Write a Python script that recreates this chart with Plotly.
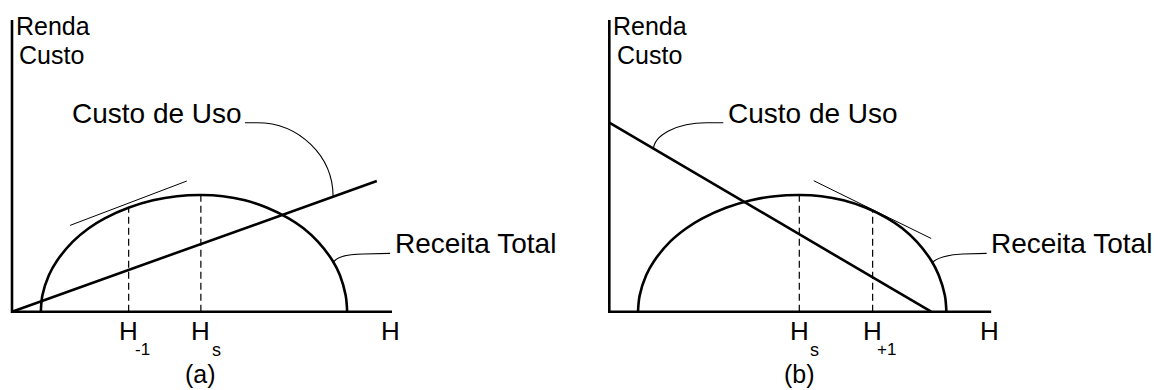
import plotly.graph_objects as go

# ---- Panel (a): use cost rising with harvest ----
RT_A_H = [0.76, 0.80, 0.97, 1.18, 1.60, 2.02, 2.44, 3.08, 3.71, 4.34, 4.97,
          5.55, 6.13, 6.70, 7.28, 7.67, 8.05, 8.44, 8.63, 8.78, 8.82]
RT_A_V = [0.00, 0.56, 1.25, 1.74, 2.40, 2.86, 3.20, 3.57, 3.82, 3.96, 4.00,
          3.96, 3.82, 3.57, 3.20, 2.86, 2.40, 1.74, 1.25, 0.56, 0.00]
CU_A_H = [0.00, 9.60]
CU_A_V = [0.00, 4.48]
TAN_A_H = [1.53, 4.60]
TAN_A_V = [2.96, 4.48]
HS_A = 4.97
HM1_A = 3.07
RT_AT_HM1_A = 3.57

# ---- Panel (b): use cost falling with harvest ----
RT_B_H = [0.755, 0.80, 0.97, 1.18, 1.60, 2.03, 2.45, 3.09, 3.73, 4.36, 5.00,
          5.58, 6.16, 6.74, 7.32, 7.71, 8.09, 8.48, 8.67, 8.83, 8.87]
RT_B_V = [0.00, 0.56, 1.25, 1.74, 2.40, 2.86, 3.20, 3.57, 3.82, 3.96, 4.00,
          3.96, 3.82, 3.57, 3.20, 2.86, 2.40, 1.74, 1.25, 0.56, 0.00]
CU_B_H = [0.00, 8.47]
CU_B_V = [6.48, 0.00]
TAN_B_H = [5.38, 8.47]
TAN_B_V = [4.49, 2.51]
HS_B = 5.00
HP1_B = 6.93
RT_AT_HP1_B = 3.46

PEAK = 4.00
AXIS_LEN_H = 10.0
AXIS_LEN_V = 10.0

# Leader curves: start, end of straight run, two Bezier handles, tip
LEAD_CU_A = [(6.13, 6.48), (6.45, 6.48), (7.55, 6.48), (8.45, 5.34), (8.45, 3.94)]
LEAD_RT_A = [(9.95, 2.00), (9.24, 1.98), (8.76, 1.97), (8.50, 1.84), (8.45, 1.66)]
LEAD_CU_B = [(3.00, 6.48), (2.56, 6.48), (1.79, 6.48), (1.16, 6.06), (1.16, 5.54)]
LEAD_RT_B = [(9.93, 2.00), (9.31, 1.98), (8.96, 1.97), (8.57, 1.84), (8.51, 1.68)]

FONT = "Liberation Sans, Arial, sans-serif"
W, H = 1163, 390
PX_H, PX_V = 38.0, 29.17          # pixels per data unit
ORIGIN_Y = 311.7
ORIGIN_A_X, ORIGIN_B_X = 12.0, 609.3

fig = go.Figure()


def line(xs, ys, xa, ya, width, dash=None, shape="linear"):
    fig.add_trace(go.Scatter(
        x=xs, y=ys, xaxis=xa, yaxis=ya, mode="lines",
        line=dict(color="black", width=width, dash=dash, shape=shape,
                  smoothing=1.0 if shape == "spline" else None),
        hoverinfo="skip", showlegend=False))


def leader(pts, xref, yref):
    p = ["M {},{}".format(*pts[0]), "L {},{}".format(*pts[1]),
         "C {},{} {},{} {},{}".format(*pts[2], *pts[3], *pts[4])]
    fig.add_shape(type="path", path=" ".join(p), xref=xref, yref=yref,
                  line=dict(color="black", width=1.1))


def label(text, x, y, xref, yref, size, xanchor="left"):
    fig.add_annotation(text=text, x=x, y=y, xref=xref, yref=yref,
                       showarrow=False, xanchor=xanchor, yanchor="middle",
                       font=dict(family=FONT, size=size, color="black"))


for (xa, ya, xref, yref, rt_h, rt_v, cu_h, cu_v, tan_h, tan_v, hs, hm, rtm,
     lead_cu, lead_rt, mark, tag, hlab_x) in [
        ("x", "y", "x", "y", RT_A_H, RT_A_V, CU_A_H, CU_A_V, TAN_A_H, TAN_A_V,
         HS_A, HM1_A, RT_AT_HM1_A, LEAD_CU_A, LEAD_RT_A, "-1", "(a)", 9.95),
        ("x2", "y2", "x2", "y2", RT_B_H, RT_B_V, CU_B_H, CU_B_V, TAN_B_H, TAN_B_V,
         HS_B, HP1_B, RT_AT_HP1_B, LEAD_CU_B, LEAD_RT_B, "+1", "(b)", 10.0)]:
    # axes
    line([0, 0, AXIS_LEN_H + (0.05 if xa == "x2" else 0)], [AXIS_LEN_V, 0, 0], xa, ya, 2.6)
    # dashed guides
    line([hs, hs], [0, PEAK], xa, ya, 1.2, dash="7px,4px")
    line([hm, hm], [0, rtm], xa, ya, 1.2, dash="7px,4px")
    # total revenue and use cost
    line(rt_h, rt_v, xa, ya, 2.6, shape="spline")
    line(cu_h, cu_v, xa, ya, 2.6)
    # tangent
    line(tan_h, tan_v, xa, ya, 1.0)
    leader(lead_cu, xref, yref)
    leader(lead_rt, xref, yref)

    # texts
    label("Renda", 0.04, 9.79, xref, yref, 25)
    label("Custo", 0.14, 8.80, xref, yref, 25)
    label("Custo de Uso", lead_cu[0][0] - 4.6 if xa == "x" else lead_cu[0][0] + 0.07,
          6.80, xref, yref, 28)
    label("Receita Total", lead_rt[0][0] + 0.07, 2.34, xref, yref, 28)
    label("H", hlab_x, -0.66, xref, yref, 26, xanchor="center")
    label("H", hs, -0.66, xref, yref, 26, xanchor="center")
    label("s", hs + 0.40, -1.31, xref, yref, 18, xanchor="center")
    label("H", hm, -0.66, xref, yref, 26, xanchor="center")
    label(mark, hm + 0.37, -1.31, xref, yref, 17, xanchor="center")
    label(tag, hs, -2.15, xref, yref, 25, xanchor="center")

v_rng = [(ORIGIN_Y - H) / PX_V, ORIGIN_Y / PX_V]
ax_common = dict(visible=False, showgrid=False, zeroline=False, fixedrange=True)

fig.update_layout(
    width=W, height=H,
    margin=dict(l=0, r=0, t=0, b=0),
    paper_bgcolor="white", plot_bgcolor="rgba(0,0,0,0)",
    xaxis=dict(domain=[0, 1], range=[-ORIGIN_A_X / PX_H, (W - ORIGIN_A_X) / PX_H], **ax_common),
    yaxis=dict(domain=[0, 1], range=v_rng, **ax_common),
    xaxis2=dict(domain=[0, 1], range=[-ORIGIN_B_X / PX_H, (W - ORIGIN_B_X) / PX_H],
                anchor="y2", **ax_common),
    yaxis2=dict(domain=[0, 1], range=v_rng, anchor="x2", **ax_common),
)

fig.write_html("out.html")
